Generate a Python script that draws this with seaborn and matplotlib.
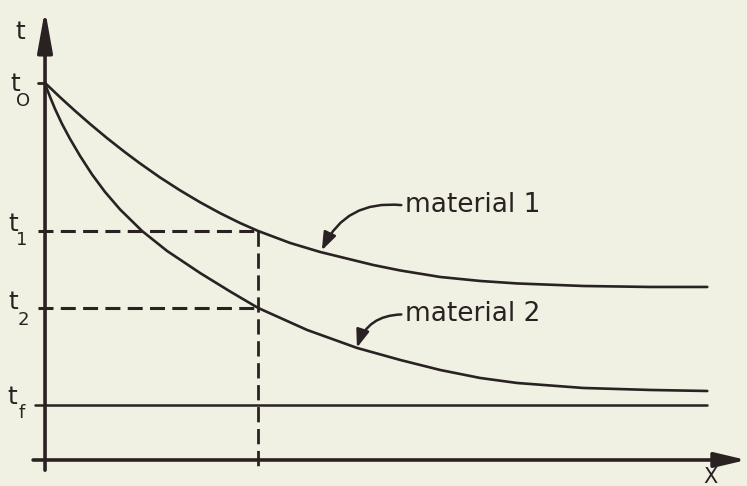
import numpy as np
import pandas as pd
import matplotlib
matplotlib.use('Agg')
import matplotlib.pyplot as plt
import seaborn as sns

# ---- data (distance x, temperature t) ----
x_mat1 = [0.0, 0.227, 0.453, 0.680, 0.937, 1.208, 1.435, 1.737, 2.039, 2.341, 2.644, 2.946,
          3.218, 3.701, 4.154, 4.955, 5.363, 5.967, 6.571, 7.130, 8.127, 9.139, 10.0]
t_mat1 = [10.0, 9.621, 9.260, 8.912, 8.536, 8.162, 7.865, 7.493, 7.151, 6.836, 6.546, 6.284,
          6.074, 5.756, 5.517, 5.172, 5.027, 4.854, 4.748, 4.682, 4.615, 4.589, 4.589]
x_mat2 = [0.0, 0.076, 0.151, 0.257, 0.378, 0.529, 0.710, 0.906, 1.133, 1.465, 1.843, 2.341,
          2.795, 3.218, 3.958, 4.713, 5.363, 5.967, 6.571, 7.130, 8.127, 9.139, 10.0]
t_mat2 = [9.973, 9.629, 9.310, 8.912, 8.515, 8.064, 7.573, 7.109, 6.645, 6.074, 5.544, 4.960,
          4.469, 4.032, 3.448, 2.971, 2.653, 2.387, 2.175, 2.042, 1.910, 1.857, 1.830]
series_names = ["material 1", "material 2"]

t0, t1, t2, tf = 10.0, 6.074, 4.032, 1.46
x_cut = 3.218
x_end = 10.0
level_sub = ["O", "1", "2", "f"]

ink = "#2a2222"
bg = "#f0f0e3"

df = pd.concat([
    pd.DataFrame({"x": x_mat1, "t": t_mat1, "material": series_names[0]}),
    pd.DataFrame({"x": x_mat2, "t": t_mat2, "material": series_names[1]}),
])

sns.set_theme(style="white")
plt.rcParams['font.family'] = ['DejaVu Sans']

fig = plt.figure(figsize=(7.47, 4.86), dpi=100, facecolor=bg)
ax = fig.add_axes([0, 0, 1, 1])
ax.set_facecolor(bg)
ax.set_xlim(-0.68, 10.60)
ax.set_ylim(-0.69, 12.20)
ax.axis("off")

sns.lineplot(data=df, x="x", y="t", hue="material", palette=[ink, ink],
             estimator=None, sort=False, legend=False, lw=1.9, ax=ax)

# axes with arrows
ax.annotate("", xy=(0, 11.94), xytext=(0, -0.27),
            arrowprops=dict(arrowstyle="-|>,head_length=2.5,head_width=0.45",
                            lw=2.6, color=ink, shrinkA=0, shrinkB=0, mutation_scale=10))
ax.annotate("", xy=(10.59, 0), xytext=(-0.18, 0),
            arrowprops=dict(arrowstyle="-|>,head_length=1.9,head_width=0.45",
                            lw=2.6, color=ink, shrinkA=0, shrinkB=0, mutation_scale=10))

# ticks / reference lines
ax.plot([-0.11, 0], [t0, t0], color=ink, lw=2.0)
ax.plot([-0.15, x_end], [tf, tf], color=ink, lw=1.8)
ax.plot([-0.10, x_cut], [t1, t1], color=ink, lw=2.2, ls=(0, (4.9, 2.4)))
ax.plot([-0.10, x_cut], [t2, t2], color=ink, lw=2.2, ls=(0, (4.9, 2.4)))
ax.plot([x_cut, x_cut], [t1, -0.21], color=ink, lw=2.0, ls=(0, (5.5, 2.4)))

# labels
ax.text(-0.378, 11.35, "t", color=ink, fontsize=18, ha="center", va="center")
for (tx, ty, sx, sy), lev, sub in zip(
        [(-0.453, 9.97, -0.332, 9.52), (-0.483, 6.26, -0.347, 5.84),
         (-0.483, 4.19, -0.332, 3.71), (-0.498, 1.67, -0.347, 1.25)],
        [t0, t1, t2, tf], level_sub):
    ax.text(tx, ty, "t", color=ink, fontsize=18, ha="center", va="center")
    ax.text(sx, sy, sub, color=ink, fontsize=13, ha="center", va="center")
ax.text(10.05, -0.45, "X", color=ink, fontsize=15, ha="center", va="center")

ax.text(5.44, 6.58, series_names[0], color=ink, fontsize=19, ha="left", va="baseline")
ax.text(5.44, 3.69, series_names[1], color=ink, fontsize=19, ha="left", va="baseline")

ax.annotate("", xy=(4.18, 5.56), xytext=(5.38, 6.76),
            arrowprops=dict(arrowstyle="-|>,head_length=0.6,head_width=0.22",
                            connectionstyle="arc3,rad=0.35", color=ink, lw=1.8,
                            shrinkA=0, shrinkB=0, mutation_scale=18))
ax.annotate("", xy=(4.71, 2.98), xytext=(5.38, 3.86),
            arrowprops=dict(arrowstyle="-|>,head_length=0.6,head_width=0.22",
                            connectionstyle="arc3,rad=0.35", color=ink, lw=1.8,
                            shrinkA=0, shrinkB=0, mutation_scale=18))

fig.savefig("out.png", dpi=100, facecolor=bg)
